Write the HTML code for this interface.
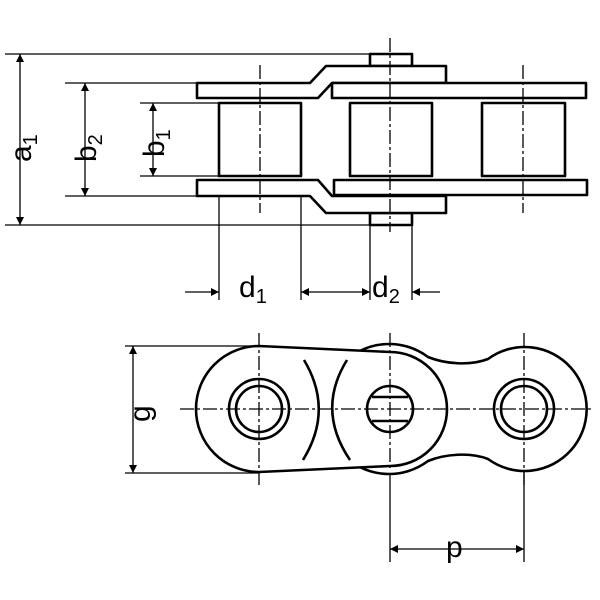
<!DOCTYPE html>
<html><head><meta charset="utf-8"><style>html,body{margin:0;padding:0;background:#fff}svg{display:block}</style></head><body>
<svg width="600" height="600" viewBox="0 0 600 600" xmlns="http://www.w3.org/2000/svg">
<defs><marker id="ar" viewBox="0 0 10 10" refX="10" refY="5" markerWidth="16" markerHeight="8" markerUnits="userSpaceOnUse" orient="auto-start-reverse"><path d="M0,0 L10,5 L0,10 Z" fill="#000"/></marker></defs>
<g stroke="#000" fill="none" stroke-width="1.3">
<line x1="5" y1="54" x2="370" y2="54"/><line x1="5" y1="225" x2="370" y2="225"/>
<line x1="65" y1="83" x2="197" y2="83"/><line x1="65" y1="196" x2="197" y2="196"/>
<line x1="140" y1="103" x2="219" y2="103"/><line x1="140" y1="176" x2="219" y2="176"/>
<line x1="219" y1="196" x2="219" y2="300"/><line x1="301" y1="196" x2="301" y2="300"/>
<line x1="370" y1="225" x2="370" y2="300"/><line x1="412" y1="225" x2="412" y2="300"/>
<line x1="20" y1="54" x2="20" y2="225" marker-start="url(#ar)" marker-end="url(#ar)"/>
<line x1="85" y1="83" x2="85" y2="196" marker-start="url(#ar)" marker-end="url(#ar)"/>
<line x1="153" y1="103" x2="153" y2="176" marker-start="url(#ar)" marker-end="url(#ar)"/>
<line x1="185" y1="292" x2="219" y2="292" marker-end="url(#ar)"/>
<line x1="301" y1="292" x2="370" y2="292" marker-start="url(#ar)" marker-end="url(#ar)"/>
<line x1="440" y1="292" x2="412" y2="292" marker-end="url(#ar)"/>
<line x1="125" y1="346" x2="259" y2="346"/><line x1="125" y1="473" x2="259" y2="473"/>
<line x1="133" y1="346" x2="133" y2="473" marker-start="url(#ar)" marker-end="url(#ar)"/>
<line x1="390" y1="470" x2="390" y2="562"/><line x1="524" y1="470" x2="524" y2="562"/>
<line x1="390" y1="549" x2="524" y2="549" marker-start="url(#ar)" marker-end="url(#ar)"/>
</g>
<g stroke="#000" fill="#fff" stroke-width="2.6" stroke-linejoin="round">
<rect x="370" y="54" width="42" height="12"/>
<rect x="370" y="213" width="42" height="12"/>
<path d="M197,83 L310,83 L326,66 L446,66 L446,83 L332,83 L318,98 L197,98 Z"/>
<rect x="332" y="83" width="254" height="15"/>
<path d="M197,180 L318,180 L332,196 L446,196 L446,213 L326,213 L310,196 L197,196 Z"/>
<rect x="334" y="180" width="253" height="15"/>
<rect x="219" y="103" width="82" height="73"/>
<rect x="350" y="103" width="82" height="73"/>
<rect x="482" y="103" width="83" height="73"/>
<path d="M428,357 A65,65 0 1 0 428,461 C445,454 470,452 488,459 A62,62 0 1 0 488,359 C470,366 445,364 428,357 Z"/>
<path d="M259,346 L390,352 A57,57 0 0 1 390,466 L259,472 A63,63 0 0 1 259,346 Z"/>
<circle cx="259" cy="409" r="30"/><circle cx="259" cy="409" r="23"/>
<circle cx="524" cy="409" r="30"/><circle cx="524" cy="409" r="23"/>
<circle cx="390" cy="409" r="23"/>
<line x1="372" y1="397" x2="408" y2="397"/><line x1="372" y1="421" x2="408" y2="421"/>
<path d="M304,360 Q334,410 303,460" fill="none"/>
<path d="M347,360 Q316,410 350,460" fill="none"/>
</g>
<g stroke="#000" fill="none" stroke-width="1.3" stroke-dasharray="14,3,3,3">
<line x1="260" y1="65" x2="260" y2="213"/><line x1="523" y1="65" x2="523" y2="213"/>
<line x1="390" y1="38" x2="390" y2="232"/>
<line x1="180" y1="409" x2="592" y2="409"/>
<line x1="259" y1="333" x2="259" y2="487"/><line x1="524" y1="333" x2="524" y2="487"/>
<line x1="390" y1="333" x2="390" y2="470"/>
</g>
<g font-family="Liberation Sans, sans-serif" font-size="30" fill="#000">
<text transform="translate(31,162) rotate(-90)">a<tspan font-size="20" dy="6">1</tspan></text>
<text transform="translate(96,162) rotate(-90)">b<tspan font-size="20" dy="6">2</tspan></text>
<text transform="translate(164,157) rotate(-90)">b<tspan font-size="20" dy="6">1</tspan></text>
<text x="239" y="297">d<tspan font-size="20" dy="6">1</tspan></text>
<text x="372" y="297">d<tspan font-size="20" dy="6">2</tspan></text>
<text transform="translate(150,422) rotate(-90)">g</text>
<text x="446" y="557">p</text>
</g>
</svg>
</body></html>
